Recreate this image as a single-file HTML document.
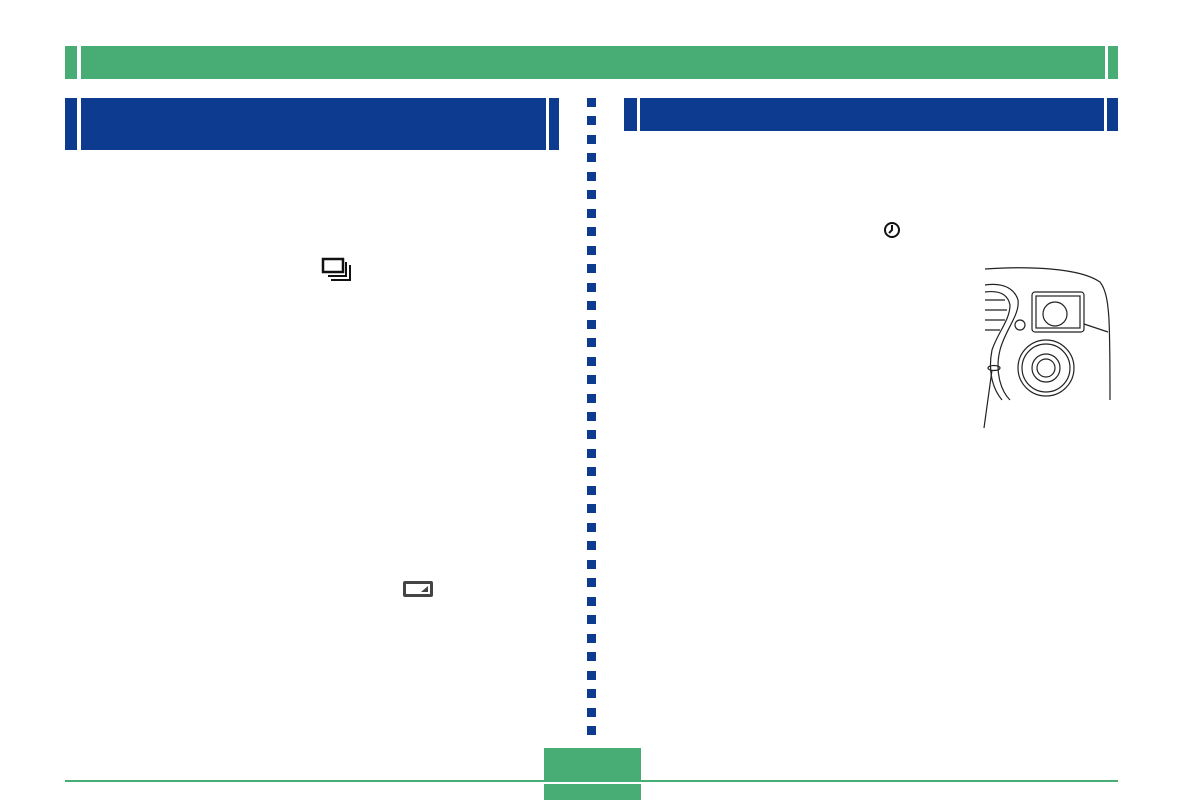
<!DOCTYPE html>
<html><head><meta charset="utf-8"><style>
body{margin:0;width:1183px;height:800px;background:#fff;position:relative;overflow:hidden;font-family:"Liberation Sans",sans-serif}
.a{position:absolute}
.g{background:#47ad75}
.b{background:#0c3b8f}
</style></head><body>
<div class="a g" style="left:65px;top:46px;width:12px;height:33px"></div>
<div class="a g" style="left:81px;top:46px;width:1024px;height:33px"></div>
<div class="a g" style="left:1108px;top:46px;width:10px;height:33px"></div>

<div class="a b" style="left:65px;top:98px;width:12px;height:52px"></div>
<div class="a b" style="left:81px;top:98px;width:465px;height:52px"></div>
<div class="a b" style="left:549px;top:98px;width:10px;height:52px"></div>

<div class="a b" style="left:624px;top:98px;width:13px;height:33px"></div>
<div class="a b" style="left:640px;top:98px;width:464px;height:33px"></div>
<div class="a b" style="left:1107px;top:98px;width:11px;height:33px"></div>

<div id="dots"></div>
<script>
var h='';for(var i=0;i<35;i++){h+='<div class="a b" style="left:587px;top:'+Math.round(98+i*18.47)+'px;width:9px;height:9px"></div>';}
document.getElementById('dots').innerHTML=h;
</script>

<div class="a g" style="left:65px;top:780px;width:1053px;height:2px"></div>
<div class="a g" style="left:544px;top:748px;width:97px;height:32px"></div>
<div class="a g" style="left:544px;top:784px;width:97px;height:16px"></div>

<svg class="a" style="left:318px;top:255px" width="40" height="32">
<rect x="5" y="4" width="20" height="13" fill="none" stroke="#111" stroke-width="2.5"/>
<path d="M28 7 V21 H10" fill="none" stroke="#111" stroke-width="2"/>
<path d="M32 10 V25 H13" fill="none" stroke="#111" stroke-width="2"/>
</svg>
<svg class="a" style="left:881px;top:219px" width="24" height="22">
<circle cx="11" cy="11" r="7" fill="none" stroke="#111" stroke-width="2"/>
<path d="M11 6 V11 L8 14" stroke="#111" stroke-width="2" fill="none"/>
</svg>
<svg class="a" style="left:400px;top:578px" width="36" height="22">
<rect x="3" y="3" width="30" height="16" rx="2" fill="#444"/>
<rect x="6" y="6" width="24" height="10" fill="#fff"/>
<path d="M21 14 L28 8 V14Z" fill="#444"/>
</svg>

<svg class="a" style="left:960px;top:260px" width="160" height="170" fill="none" stroke="#222" stroke-width="1.2">
<path d="M25 9 C70 6 120 8 140 22 C150 35 150 60 150 140"/>
<path d="M25 25 C45 22 55 30 58 40 C60 55 45 70 40 90 C35 110 40 130 50 140"/>
<path d="M25 32 C40 30 48 35 50 45 C50 60 38 72 32 90 C28 110 32 128 42 140"/>
<path d="M25 40 H45 M25 50 H47 M25 60 H45 M25 70 H40"/>
<rect x="72" y="32" width="52" height="40" rx="3"/>
<rect x="76" y="36" width="44" height="32"/>
<circle cx="95" cy="54" r="12"/>
<path d="M124 64 L148 72"/>
<circle cx="60" cy="65" r="5"/>
<circle cx="86" cy="108" r="28"/>
<circle cx="86" cy="108" r="24"/>
<circle cx="86" cy="108" r="14"/>
<circle cx="86" cy="108" r="9"/>
<ellipse cx="34" cy="108" rx="6" ry="2.5"/>
<path d="M32 110 L24 168"/>
</svg>
</body></html>
